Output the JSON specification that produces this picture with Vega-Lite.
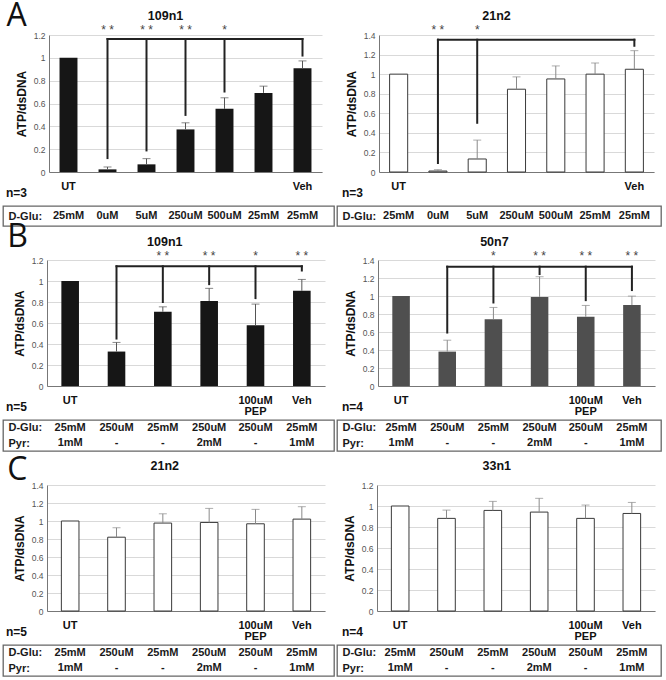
{
"$schema": "https://vega.github.io/schema/vega-lite/v6.json",
"padding": {"left": 2, "top": 0, "right": 0, "bottom": 0},
"config": {
 "font": "Liberation Sans",
 "view": {"stroke": null},
 "title": {"fontSize": 12, "fontWeight": "bold", "color": "#111"},
 "axisX": {"grid": false, "ticks": false, "tickSize": 0, "domainColor": "#777", "labelFontSize": 11, "labelFontWeight": "bold", "labelColor": "#111", "labelAngle": 0, "labelPadding": 8, "labelLineHeight": 11, "labelBaseline": "top"},
 "axisY": {"grid": true, "gridColor": "#d9d9d9", "ticks": false, "tickSize": 0, "domainColor": "#777", "labelFontSize": 8.5, "labelColor": "#555", "labelPadding": 4, "labelOverlap": false, "titleFontSize": 12, "titleFontWeight": "bold", "titleColor": "#111", "titlePadding": 5}
},
"datasets": {
 "AL": [{"cond":"UT","mean":1.0},{"cond":"0uM","mean":0.023,"upper":0.044},{"cond":"5uM","mean":0.067,"upper":0.117},{"cond":"250uM","mean":0.373,"upper":0.431},{"cond":"500uM","mean":0.553,"upper":0.65},{"cond":"25mM","mean":0.693,"upper":0.752},{"cond":"Veh","mean":0.909,"upper":0.973}],
 "ALb": [{"cond":"0uM","cond2":"Veh","y1":1.165,"y2":1.165},{"cond":"0uM","cond2":"0uM","y1":1.165,"y2":0.122},{"cond":"5uM","cond2":"5uM","y1":1.165,"y2":0.189},{"cond":"250uM","cond2":"250uM","y1":1.165,"y2":0.5},{"cond":"500uM","cond2":"500uM","y1":1.165,"y2":0.705},{"cond":"Veh","cond2":"Veh","y1":1.165,"y2":1.02}],
 "ALs": [{"cond":"0uM","sig":"* *","y":1.247},{"cond":"5uM","sig":"* *","y":1.247},{"cond":"250uM","sig":"* *","y":1.247},{"cond":"500uM","sig":"*","y":1.247}],
 "AR": [{"cond":"UT","mean":1.0},{"cond":"0uM","mean":0.01,"upper":0.024},{"cond":"5uM","mean":0.133,"upper":0.326},{"cond":"250uM","mean":0.846,"upper":0.972},{"cond":"500uM","mean":0.951,"upper":1.084},{"cond":"25mM","mean":1.0,"upper":1.114},{"cond":"Veh","mean":1.05,"upper":1.24}],
 "ARb": [{"cond":"0uM","cond2":"Veh","y1":1.352,"y2":1.352},{"cond":"0uM","cond2":"0uM","y1":1.352,"y2":0.092},{"cond":"5uM","cond2":"5uM","y1":1.352,"y2":0.503},{"cond":"Veh","cond2":"Veh","y1":1.352,"y2":1.29}],
 "ARs": [{"cond":"0uM","sig":"* *","y":1.454},{"cond":"5uM","sig":"*","y":1.454}],
 "BL": [{"cond":"UT","mean":1.0},{"cond":"250uM","mean":0.328,"upper":0.415},{"cond":"25mM","mean":0.707,"upper":0.754},{"cond":"250uM+2mM","mean":0.81,"upper":0.93},{"cond":"PEP","mean":0.579,"upper":0.78},{"cond":"Veh","mean":0.907,"upper":1.015}],
 "BLb": [{"cond":"250uM","cond2":"Veh","y1":1.14,"y2":1.14},{"cond":"250uM","cond2":"250uM","y1":1.14,"y2":0.452},{"cond":"25mM","cond2":"25mM","y1":1.14,"y2":0.8},{"cond":"250uM+2mM","cond2":"250uM+2mM","y1":1.14,"y2":0.97},{"cond":"PEP","cond2":"PEP","y1":1.14,"y2":0.837},{"cond":"Veh","cond2":"Veh","y1":1.14,"y2":1.1}],
 "BLs": [{"cond":"25mM","sig":"* *","y":1.235},{"cond":"250uM+2mM","sig":"* *","y":1.235},{"cond":"PEP","sig":"*","y":1.235},{"cond":"Veh","sig":"* *","y":1.235}],
 "BR": [{"cond":"UT","mean":1.0},{"cond":"250uM","mean":0.382,"upper":0.509},{"cond":"25mM","mean":0.743,"upper":0.873},{"cond":"250uM+2mM","mean":0.99,"upper":1.214},{"cond":"PEP","mean":0.769,"upper":0.895},{"cond":"Veh","mean":0.899,"upper":0.999}],
 "BRb": [{"cond":"250uM","cond2":"Veh","y1":1.326,"y2":1.326},{"cond":"250uM","cond2":"250uM","y1":1.326,"y2":0.594},{"cond":"25mM","cond2":"25mM","y1":1.326,"y2":0.928},{"cond":"250uM+2mM","cond2":"250uM+2mM","y1":1.326,"y2":1.244},{"cond":"PEP","cond2":"PEP","y1":1.326,"y2":0.954},{"cond":"Veh","cond2":"Veh","y1":1.326,"y2":1.066}],
 "BRs": [{"cond":"25mM","sig":"*","y":1.44},{"cond":"250uM+2mM","sig":"* *","y":1.44},{"cond":"PEP","sig":"* *","y":1.44},{"cond":"Veh","sig":"* *","y":1.44}],
 "CL": [{"cond":"UT","mean":1.0},{"cond":"250uM","mean":0.82,"upper":0.925},{"cond":"25mM","mean":0.977,"upper":1.08},{"cond":"250uM+2mM","mean":0.984,"upper":1.14},{"cond":"PEP","mean":0.969,"upper":1.129},{"cond":"Veh","mean":1.021,"upper":1.159}],
 "CR": [{"cond":"UT","mean":1.0},{"cond":"250uM","mean":0.882,"upper":0.961},{"cond":"25mM","mean":0.958,"upper":1.044},{"cond":"250uM+2mM","mean":0.942,"upper":1.073},{"cond":"PEP","mean":0.882,"upper":1.009},{"cond":"Veh","mean":0.929,"upper":1.034}],
 "tblA": [{"cond":"UT","row":"D-Glu:","val":"25mM"},{"cond":"0uM","row":"D-Glu:","val":"0uM"},{"cond":"5uM","row":"D-Glu:","val":"5uM"},{"cond":"250uM","row":"D-Glu:","val":"250uM"},{"cond":"500uM","row":"D-Glu:","val":"500uM"},{"cond":"25mM","row":"D-Glu:","val":"25mM"},{"cond":"Veh","row":"D-Glu:","val":"25mM"}],
 "tblB": [{"cond":"UT","row":"D-Glu:","val":"25mM"},{"cond":"250uM","row":"D-Glu:","val":"250uM"},{"cond":"25mM","row":"D-Glu:","val":"25mM"},{"cond":"250uM+2mM","row":"D-Glu:","val":"250uM"},{"cond":"PEP","row":"D-Glu:","val":"250uM"},{"cond":"Veh","row":"D-Glu:","val":"25mM"},
          {"cond":"UT","row":"Pyr:","val":"1mM"},{"cond":"250uM","row":"Pyr:","val":"-"},{"cond":"25mM","row":"Pyr:","val":"-"},{"cond":"250uM+2mM","row":"Pyr:","val":"2mM"},{"cond":"PEP","row":"Pyr:","val":"-"},{"cond":"Veh","row":"Pyr:","val":"1mM"}]
},
"hconcat": [
{
 "vconcat": [
  {
   "width": 331, "height": 137,
   "resolve": {"axis": {"y": "independent"}},
   "encoding": {"x": {"field": "cond", "type": "nominal", "scale": {"domain": ["UT","0uM","5uM","250uM","500uM","25mM","Veh"], "range": [46, 319], "paddingInner": 0.54, "paddingOuter": 0.27}, "axis": {"title": null, "labelExpr": "datum.value == 'UT' || datum.value == 'Veh' ? datum.value : ''"}}},
   "layer": [
    {"data": {"name": "AL"}, "mark": {"type": "bar", "fill": "#161616"}, "encoding": {"y": {"field": "mean", "type": "quantitative", "scale": {"domain": [0, 1.2], "nice": false}, "axis": {"values": [0,0.2,0.4,0.6,0.8,1,1.2], "format": "~g", "offset": -46, "title": "ATP/dsDNA", "labelOverlap": false}}}},
    {"data": {"name": "AL"}, "transform": [{"filter": "isValid(datum.upper)"}], "mark": {"type": "rule", "color": "#555"}, "encoding": {"y": {"field": "mean", "type": "quantitative", "scale": {"domain": [0, 1.2], "nice": false}, "axis": null}, "y2": {"field": "upper"}}},
    {"data": {"name": "AL"}, "transform": [{"filter": "isValid(datum.upper)"}], "mark": {"type": "tick", "color": "#555", "size": 8, "thickness": 1}, "encoding": {"y": {"field": "upper", "type": "quantitative", "scale": {"domain": [0, 1.2], "nice": false}, "axis": null}}},
    {"data": {"name": "ALb"}, "mark": {"type": "rule", "color": "#222", "strokeWidth": 2, "strokeCap": "square"}, "encoding": {"x2": {"field": "cond2"}, "y": {"field": "y1", "type": "quantitative", "scale": {"domain": [0, 1.2], "nice": false}, "axis": null}, "y2": {"field": "y2"}}},
    {"data": {"name": "ALs"}, "mark": {"type": "text", "fontSize": 12, "color": "#444", "baseline": "middle"}, "encoding": {"y": {"field": "y", "type": "quantitative", "scale": {"domain": [0, 1.2], "nice": false}, "axis": null}, "text": {"field": "sig"}}},
    {"data": {"values": [{"cond": "250uM", "t": "109n1"}]}, "mark": {"type": "text", "fontSize": 12.5, "fontWeight": "bold", "color": "#111", "baseline": "alphabetic", "dx": -20}, "encoding": {"y": {"datum": 1.331, "type": "quantitative", "scale": {"domain": [0, 1.2], "nice": false}, "axis": null}, "text": {"field": "t"}}},
    {"data": {"values": [{"cond": "UT", "letter": "A"}]}, "mark": {"type": "text", "font": "Open Sans", "fontSize": 32, "align": "left", "baseline": "alphabetic", "dx": -62, "color": "#111"}, "encoding": {"y": {"datum": 1.278, "type": "quantitative", "scale": {"domain": [0, 1.2], "nice": false}, "axis": null}, "text": {"field": "letter"}}}
   ]
  },
  {
   "width": 331, "height": 20,
   "view": {"stroke": "#666", "strokeWidth": 1.3},
   "title": {"text": "n=3", "anchor": "start", "frame": "group", "offset": 6, "dx": 3, "fontSize": 12},
   "data": {"name": "tblA"},
   "mark": {"type": "text", "fontSize": 11, "fontWeight": "bold", "color": "#1a1a1a"},
   "encoding": {
    "x": {"field": "cond", "type": "nominal", "scale": {"domain": ["UT","0uM","5uM","250uM","500uM","25mM","Veh"], "range": [46, 319], "paddingInner": 0.54, "paddingOuter": 0.27}, "axis": null},
    "y": {"field": "row", "type": "nominal", "scale": {"domain": ["D-Glu:"], "paddingInner": 0, "paddingOuter": 0.2}, "axis": {"offset": -5, "domain": false, "ticks": false, "tickSize": 0, "grid": false, "labelPadding": 0, "labelAlign": "left", "title": null, "labelFontSize": 11, "labelFontWeight": "bold", "labelColor": "#1a1a1a"}},
    "text": {"field": "val"}
   }
  },
  {
   "width": 331, "height": 126,
   "resolve": {"axis": {"y": "independent"}},
   "encoding": {"x": {"field": "cond", "type": "nominal", "scale": {"domain": ["UT","250uM","25mM","250uM+2mM","PEP","Veh"], "range": [44, 322], "paddingInner": 0.62, "paddingOuter": 0.31}, "axis": {"title": null, "labelExpr": "datum.value == 'PEP' ? ['100uM', 'PEP'] : (datum.value == 'UT' || datum.value == 'Veh') ? datum.value : ''"}}},
   "layer": [
    {"data": {"name": "BL"}, "mark": {"type": "bar", "fill": "#161616"}, "encoding": {"y": {"field": "mean", "type": "quantitative", "scale": {"domain": [0, 1.2], "nice": false}, "axis": {"values": [0,0.2,0.4,0.6,0.8,1,1.2], "format": "~g", "offset": -44, "title": "ATP/dsDNA", "labelOverlap": false}}}},
    {"data": {"name": "BL"}, "transform": [{"filter": "isValid(datum.upper)"}], "mark": {"type": "rule", "color": "#555"}, "encoding": {"y": {"field": "mean", "type": "quantitative", "scale": {"domain": [0, 1.2], "nice": false}, "axis": null}, "y2": {"field": "upper"}}},
    {"data": {"name": "BL"}, "transform": [{"filter": "isValid(datum.upper)"}], "mark": {"type": "tick", "color": "#555", "size": 8, "thickness": 1}, "encoding": {"y": {"field": "upper", "type": "quantitative", "scale": {"domain": [0, 1.2], "nice": false}, "axis": null}}},
    {"data": {"name": "BLb"}, "mark": {"type": "rule", "color": "#222", "strokeWidth": 2, "strokeCap": "square"}, "encoding": {"x2": {"field": "cond2"}, "y": {"field": "y1", "type": "quantitative", "scale": {"domain": [0, 1.2], "nice": false}, "axis": null}, "y2": {"field": "y2"}}},
    {"data": {"name": "BLs"}, "mark": {"type": "text", "fontSize": 12, "color": "#444", "baseline": "middle"}, "encoding": {"y": {"field": "y", "type": "quantitative", "scale": {"domain": [0, 1.2], "nice": false}, "axis": null}, "text": {"field": "sig"}}},
    {"data": {"values": [{"cond": "25mM", "t": "109n1"}]}, "mark": {"type": "text", "fontSize": 12.5, "fontWeight": "bold", "color": "#111", "baseline": "alphabetic", "dx": 2}, "encoding": {"y": {"datum": 1.333, "type": "quantitative", "scale": {"domain": [0, 1.2], "nice": false}, "axis": null}, "text": {"field": "t"}}},
    {"data": {"values": [{"cond": "UT", "letter": "B"}]}, "mark": {"type": "text", "font": "Open Sans", "fontSize": 32, "align": "left", "baseline": "alphabetic", "dx": -63, "color": "#111"}, "encoding": {"y": {"datum": 1.324, "type": "quantitative", "scale": {"domain": [0, 1.2], "nice": false}, "axis": null}, "text": {"field": "letter"}}}
   ]
  },
  {
   "width": 331, "height": 31,
   "view": {"stroke": "#666", "strokeWidth": 1.3},
   "title": {"text": "n=5", "anchor": "start", "frame": "group", "offset": 6, "dx": 3, "fontSize": 12},
   "data": {"name": "tblB"},
   "mark": {"type": "text", "fontSize": 11, "fontWeight": "bold", "color": "#1a1a1a"},
   "encoding": {
    "x": {"field": "cond", "type": "nominal", "scale": {"domain": ["UT","250uM","25mM","250uM+2mM","PEP","Veh"], "range": [44, 322], "paddingInner": 0.62, "paddingOuter": 0.31}, "axis": null},
    "y": {"field": "row", "type": "nominal", "scale": {"domain": ["D-Glu:", "Pyr:"], "paddingInner": 0, "paddingOuter": 0.2}, "axis": {"offset": -5, "domain": false, "ticks": false, "tickSize": 0, "grid": false, "labelPadding": 0, "labelAlign": "left", "title": null, "labelFontSize": 11, "labelFontWeight": "bold", "labelColor": "#1a1a1a"}},
    "text": {"field": "val"}
   }
  },
  {
   "width": 331, "height": 126,
   "resolve": {"axis": {"y": "independent"}},
   "encoding": {"x": {"field": "cond", "type": "nominal", "scale": {"domain": ["UT","250uM","25mM","250uM+2mM","PEP","Veh"], "range": [44, 322], "paddingInner": 0.62, "paddingOuter": 0.31}, "axis": {"title": null, "labelExpr": "datum.value == 'PEP' ? ['100uM', 'PEP'] : (datum.value == 'UT' || datum.value == 'Veh') ? datum.value : ''"}}},
   "layer": [
    {"data": {"name": "CL"}, "mark": {"type": "bar", "fill": "#ffffff", "stroke": "#3a3a3a", "strokeWidth": 1}, "encoding": {"y": {"field": "mean", "type": "quantitative", "scale": {"domain": [0, 1.4], "nice": false}, "axis": {"values": [0,0.2,0.4,0.6,0.8,1,1.2,1.4], "format": "~g", "offset": -44, "title": "ATP/dsDNA", "labelOverlap": false}}}},
    {"data": {"name": "CL"}, "transform": [{"filter": "isValid(datum.upper)"}], "mark": {"type": "rule", "color": "#8a8a8a"}, "encoding": {"y": {"field": "mean", "type": "quantitative", "scale": {"domain": [0, 1.4], "nice": false}, "axis": null}, "y2": {"field": "upper"}}},
    {"data": {"name": "CL"}, "transform": [{"filter": "isValid(datum.upper)"}], "mark": {"type": "tick", "color": "#8a8a8a", "size": 8, "thickness": 1}, "encoding": {"y": {"field": "upper", "type": "quantitative", "scale": {"domain": [0, 1.4], "nice": false}, "axis": null}}},
    {"data": {"values": [{"cond": "25mM", "t": "21n2"}]}, "mark": {"type": "text", "fontSize": 12.5, "fontWeight": "bold", "color": "#111", "baseline": "alphabetic", "dx": 2}, "encoding": {"y": {"datum": 1.567, "type": "quantitative", "scale": {"domain": [0, 1.4], "nice": false}, "axis": null}, "text": {"field": "t"}}},
    {"data": {"values": [{"cond": "UT", "letter": "C"}]}, "mark": {"type": "text", "font": "Open Sans", "fontSize": 32, "align": "left", "baseline": "alphabetic", "dx": -63, "color": "#111"}, "encoding": {"y": {"datum": 1.452, "type": "quantitative", "scale": {"domain": [0, 1.4], "nice": false}, "axis": null}, "text": {"field": "letter"}}}
   ]
  },
  {
   "width": 331, "height": 31,
   "view": {"stroke": "#666", "strokeWidth": 1.3},
   "title": {"text": "n=5", "anchor": "start", "frame": "group", "offset": 6, "dx": 3, "fontSize": 12},
   "data": {"name": "tblB"},
   "mark": {"type": "text", "fontSize": 11, "fontWeight": "bold", "color": "#1a1a1a"},
   "encoding": {
    "x": {"field": "cond", "type": "nominal", "scale": {"domain": ["UT","250uM","25mM","250uM+2mM","PEP","Veh"], "range": [44, 322], "paddingInner": 0.62, "paddingOuter": 0.31}, "axis": null},
    "y": {"field": "row", "type": "nominal", "scale": {"domain": ["D-Glu:", "Pyr:"], "paddingInner": 0, "paddingOuter": 0.2}, "axis": {"offset": -5, "domain": false, "ticks": false, "tickSize": 0, "grid": false, "labelPadding": 0, "labelAlign": "left", "title": null, "labelFontSize": 11, "labelFontWeight": "bold", "labelColor": "#1a1a1a"}},
    "text": {"field": "val"}
   }
  }
 ],
 "spacing": 34,
 "bounds": "flush"
},
{
 "vconcat": [
  {
   "width": 324, "height": 137,
   "resolve": {"axis": {"y": "independent"}},
   "encoding": {"x": {"field": "cond", "type": "nominal", "scale": {"domain": ["UT","0uM","5uM","250uM","500uM","25mM","Veh"], "range": [42, 317], "paddingInner": 0.54, "paddingOuter": 0.27}, "axis": {"title": null, "labelExpr": "datum.value == 'UT' || datum.value == 'Veh' ? datum.value : ''"}}},
   "layer": [
    {"data": {"name": "AR"}, "mark": {"type": "bar", "fill": "#ffffff", "stroke": "#3a3a3a", "strokeWidth": 1}, "encoding": {"y": {"field": "mean", "type": "quantitative", "scale": {"domain": [0, 1.4], "nice": false}, "axis": {"values": [0,0.2,0.4,0.6,0.8,1,1.2,1.4], "format": "~g", "offset": -42, "title": "ATP/dsDNA", "labelOverlap": false}}}},
    {"data": {"name": "AR"}, "transform": [{"filter": "isValid(datum.upper)"}], "mark": {"type": "rule", "color": "#8a8a8a"}, "encoding": {"y": {"field": "mean", "type": "quantitative", "scale": {"domain": [0, 1.4], "nice": false}, "axis": null}, "y2": {"field": "upper"}}},
    {"data": {"name": "AR"}, "transform": [{"filter": "isValid(datum.upper)"}], "mark": {"type": "tick", "color": "#8a8a8a", "size": 8, "thickness": 1}, "encoding": {"y": {"field": "upper", "type": "quantitative", "scale": {"domain": [0, 1.4], "nice": false}, "axis": null}}},
    {"data": {"name": "ARb"}, "mark": {"type": "rule", "color": "#222", "strokeWidth": 2, "strokeCap": "square"}, "encoding": {"x2": {"field": "cond2"}, "y": {"field": "y1", "type": "quantitative", "scale": {"domain": [0, 1.4], "nice": false}, "axis": null}, "y2": {"field": "y2"}}},
    {"data": {"name": "ARs"}, "mark": {"type": "text", "fontSize": 12, "color": "#444", "baseline": "middle"}, "encoding": {"y": {"field": "y", "type": "quantitative", "scale": {"domain": [0, 1.4], "nice": false}, "axis": null}, "text": {"field": "sig"}}},
    {"data": {"values": [{"cond": "250uM", "t": "21n2"}]}, "mark": {"type": "text", "fontSize": 12.5, "fontWeight": "bold", "color": "#111", "baseline": "alphabetic", "dx": -20}, "encoding": {"y": {"datum": 1.553, "type": "quantitative", "scale": {"domain": [0, 1.4], "nice": false}, "axis": null}, "text": {"field": "t"}}}
   ]
  },
  {
   "width": 324, "height": 20,
   "view": {"stroke": "#666", "strokeWidth": 1.3},
   "title": {"text": "n=3", "anchor": "start", "frame": "group", "offset": 6, "dx": 5, "fontSize": 12},
   "data": {"name": "tblA"},
   "mark": {"type": "text", "fontSize": 11, "fontWeight": "bold", "color": "#1a1a1a"},
   "encoding": {
    "x": {"field": "cond", "type": "nominal", "scale": {"domain": ["UT","0uM","5uM","250uM","500uM","25mM","Veh"], "range": [42, 317], "paddingInner": 0.54, "paddingOuter": 0.27}, "axis": null},
    "y": {"field": "row", "type": "nominal", "scale": {"domain": ["D-Glu:"], "paddingInner": 0, "paddingOuter": 0.2}, "axis": {"offset": -5, "domain": false, "ticks": false, "tickSize": 0, "grid": false, "labelPadding": 0, "labelAlign": "left", "title": null, "labelFontSize": 11, "labelFontWeight": "bold", "labelColor": "#1a1a1a"}},
    "text": {"field": "val"}
   }
  },
  {
   "width": 324, "height": 126,
   "resolve": {"axis": {"y": "independent"}},
   "encoding": {"x": {"field": "cond", "type": "nominal", "scale": {"domain": ["UT","250uM","25mM","250uM+2mM","PEP","Veh"], "range": [41, 318], "paddingInner": 0.62, "paddingOuter": 0.31}, "axis": {"title": null, "labelExpr": "datum.value == 'PEP' ? ['100uM', 'PEP'] : (datum.value == 'UT' || datum.value == 'Veh') ? datum.value : ''"}}},
   "layer": [
    {"data": {"name": "BR"}, "mark": {"type": "bar", "fill": "#4f4f4f"}, "encoding": {"y": {"field": "mean", "type": "quantitative", "scale": {"domain": [0, 1.4], "nice": false}, "axis": {"values": [0,0.2,0.4,0.6,0.8,1,1.2,1.4], "format": "~g", "offset": -41, "title": "ATP/dsDNA", "labelOverlap": false}}}},
    {"data": {"name": "BR"}, "transform": [{"filter": "isValid(datum.upper)"}], "mark": {"type": "rule", "color": "#8a8a8a"}, "encoding": {"y": {"field": "mean", "type": "quantitative", "scale": {"domain": [0, 1.4], "nice": false}, "axis": null}, "y2": {"field": "upper"}}},
    {"data": {"name": "BR"}, "transform": [{"filter": "isValid(datum.upper)"}], "mark": {"type": "tick", "color": "#8a8a8a", "size": 8, "thickness": 1}, "encoding": {"y": {"field": "upper", "type": "quantitative", "scale": {"domain": [0, 1.4], "nice": false}, "axis": null}}},
    {"data": {"name": "BRb"}, "mark": {"type": "rule", "color": "#222", "strokeWidth": 2, "strokeCap": "square"}, "encoding": {"x2": {"field": "cond2"}, "y": {"field": "y1", "type": "quantitative", "scale": {"domain": [0, 1.4], "nice": false}, "axis": null}, "y2": {"field": "y2"}}},
    {"data": {"name": "BRs"}, "mark": {"type": "text", "fontSize": 12, "color": "#444", "baseline": "middle"}, "encoding": {"y": {"field": "y", "type": "quantitative", "scale": {"domain": [0, 1.4], "nice": false}, "axis": null}, "text": {"field": "sig"}}},
    {"data": {"values": [{"cond": "25mM", "t": "50n7"}]}, "mark": {"type": "text", "fontSize": 12.5, "fontWeight": "bold", "color": "#111", "baseline": "alphabetic", "dx": 1}, "encoding": {"y": {"datum": 1.556, "type": "quantitative", "scale": {"domain": [0, 1.4], "nice": false}, "axis": null}, "text": {"field": "t"}}}
   ]
  },
  {
   "width": 324, "height": 31,
   "view": {"stroke": "#666", "strokeWidth": 1.3},
   "title": {"text": "n=4", "anchor": "start", "frame": "group", "offset": 6, "dx": 5, "fontSize": 12},
   "data": {"name": "tblB"},
   "mark": {"type": "text", "fontSize": 11, "fontWeight": "bold", "color": "#1a1a1a"},
   "encoding": {
    "x": {"field": "cond", "type": "nominal", "scale": {"domain": ["UT","250uM","25mM","250uM+2mM","PEP","Veh"], "range": [41, 318], "paddingInner": 0.62, "paddingOuter": 0.31}, "axis": null},
    "y": {"field": "row", "type": "nominal", "scale": {"domain": ["D-Glu:", "Pyr:"], "paddingInner": 0, "paddingOuter": 0.2}, "axis": {"offset": -5, "domain": false, "ticks": false, "tickSize": 0, "grid": false, "labelPadding": 0, "labelAlign": "left", "title": null, "labelFontSize": 11, "labelFontWeight": "bold", "labelColor": "#1a1a1a"}},
    "text": {"field": "val"}
   }
  },
  {
   "width": 324, "height": 126,
   "resolve": {"axis": {"y": "independent"}},
   "encoding": {"x": {"field": "cond", "type": "nominal", "scale": {"domain": ["UT","250uM","25mM","250uM+2mM","PEP","Veh"], "range": [40, 318], "paddingInner": 0.62, "paddingOuter": 0.31}, "axis": {"title": null, "labelExpr": "datum.value == 'PEP' ? ['100uM', 'PEP'] : (datum.value == 'UT' || datum.value == 'Veh') ? datum.value : ''"}}},
   "layer": [
    {"data": {"name": "CR"}, "mark": {"type": "bar", "fill": "#ffffff", "stroke": "#3a3a3a", "strokeWidth": 1}, "encoding": {"y": {"field": "mean", "type": "quantitative", "scale": {"domain": [0, 1.2], "nice": false}, "axis": {"values": [0,0.2,0.4,0.6,0.8,1,1.2], "format": "~g", "offset": -40, "title": "ATP/dsDNA", "labelOverlap": false}}}},
    {"data": {"name": "CR"}, "transform": [{"filter": "isValid(datum.upper)"}], "mark": {"type": "rule", "color": "#8a8a8a"}, "encoding": {"y": {"field": "mean", "type": "quantitative", "scale": {"domain": [0, 1.2], "nice": false}, "axis": null}, "y2": {"field": "upper"}}},
    {"data": {"name": "CR"}, "transform": [{"filter": "isValid(datum.upper)"}], "mark": {"type": "tick", "color": "#8a8a8a", "size": 8, "thickness": 1}, "encoding": {"y": {"field": "upper", "type": "quantitative", "scale": {"domain": [0, 1.2], "nice": false}, "axis": null}}},
    {"data": {"values": [{"cond": "25mM", "t": "33n1"}]}, "mark": {"type": "text", "fontSize": 12.5, "fontWeight": "bold", "color": "#111", "baseline": "alphabetic", "dx": 4}, "encoding": {"y": {"datum": 1.343, "type": "quantitative", "scale": {"domain": [0, 1.2], "nice": false}, "axis": null}, "text": {"field": "t"}}}
   ]
  },
  {
   "width": 324, "height": 31,
   "view": {"stroke": "#666", "strokeWidth": 1.3},
   "title": {"text": "n=4", "anchor": "start", "frame": "group", "offset": 6, "dx": 5, "fontSize": 12},
   "data": {"name": "tblB"},
   "mark": {"type": "text", "fontSize": 11, "fontWeight": "bold", "color": "#1a1a1a"},
   "encoding": {
    "x": {"field": "cond", "type": "nominal", "scale": {"domain": ["UT","250uM","25mM","250uM+2mM","PEP","Veh"], "range": [40, 318], "paddingInner": 0.62, "paddingOuter": 0.31}, "axis": null},
    "y": {"field": "row", "type": "nominal", "scale": {"domain": ["D-Glu:", "Pyr:"], "paddingInner": 0, "paddingOuter": 0.2}, "axis": {"offset": -5, "domain": false, "ticks": false, "tickSize": 0, "grid": false, "labelPadding": 0, "labelAlign": "left", "title": null, "labelFontSize": 11, "labelFontWeight": "bold", "labelColor": "#1a1a1a"}},
    "text": {"field": "val"}
   }
  }
 ],
 "spacing": 34,
 "bounds": "flush"
}
],
"spacing": 1
}
